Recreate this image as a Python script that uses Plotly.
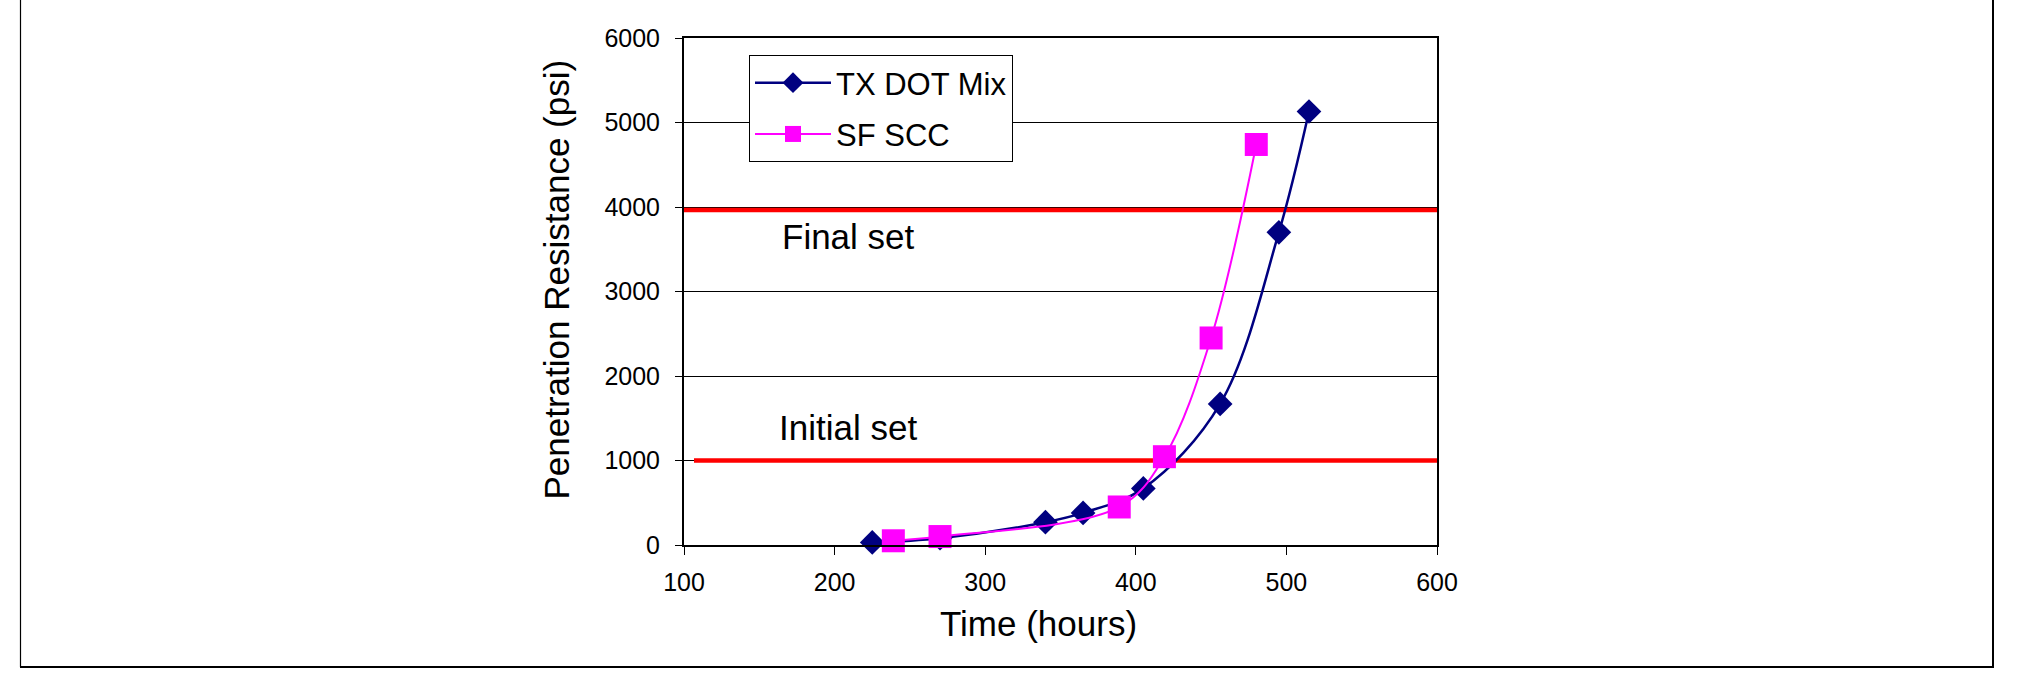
import plotly.graph_objects as go

# ---- data ----
tx_time = [225, 270, 340, 365, 405, 456, 495, 515]
tx_psi = [30, 80, 270, 380, 670, 1670, 3700, 5130]
sf_time = [239, 270, 389, 419, 450, 480]
sf_psi = [50, 100, 450, 1045, 2450, 4740]
set_levels = [1000, 3965]
set_labels = ["Initial set", "Final set"]
label_pos = [(209, 1385), (209, 3647)]
x_ticks = [100, 200, 300, 400, 500, 600]
y_ticks = [0, 1000, 2000, 3000, 4000, 5000, 6000]
x_range = [100, 600]
y_range = [0, 6000]

W, H = 2035, 682
ML, MR, MT, MB = 684, 2035 - 1437, 38, 682 - 545
PW, PH = W - ML - MR, H - MT - MB


def px_x(p):
    return (p - ML) / PW


def px_y(p):
    return (H - MB - p) / PH


def px_to_xdata(p):
    return x_range[0] + (p - ML) / PW * (x_range[1] - x_range[0])


FONT = "Liberation Sans, Arial, sans-serif"

fig = go.Figure()
fig.add_trace(go.Scatter(
    x=tx_time, y=tx_psi, name="TX DOT Mix", mode="lines+markers",
    line=dict(color="#000080", width=2.5, shape="spline", smoothing=1),
    marker=dict(symbol="diamond", size=19, color="#000080"),
    legendgroup="a", cliponaxis=False,
))
fig.add_trace(go.Scatter(
    x=sf_time, y=sf_psi, name="SF SCC", mode="lines+markers",
    line=dict(color="#FF00FF", width=2, shape="spline", smoothing=1),
    marker=dict(symbol="square", size=23, color="#FF00FF"),
    legendgroup="b", cliponaxis=False,
))

shapes = []
# red set lines (above gridlines, below data)
starts = [694, 676]
for lvl, s in zip(set_levels, starts):
    shapes.append(dict(type="line", xref="x", yref="y",
                       x0=px_to_xdata(s), x1=px_to_xdata(1445), y0=lvl, y1=lvl,
                       line=dict(color="#FF0000", width=4.5), layer="between"))
# outer frame (left, bottom, right)
shapes.append(dict(type="line", xref="paper", yref="paper", x0=px_x(20.5), x1=px_x(20.5),
                   y0=px_y(667), y1=px_y(-20), line=dict(color="black", width=1.2)))
shapes.append(dict(type="line", xref="paper", yref="paper", x0=px_x(20), x1=px_x(1994),
                   y0=px_y(667), y1=px_y(667), line=dict(color="black", width=2)))
shapes.append(dict(type="line", xref="paper", yref="paper", x0=px_x(1993), x1=px_x(1993),
                   y0=px_y(668), y1=px_y(-20), line=dict(color="black", width=2)))

annotations = []
for lab, (ax_, ay_) in zip(set_labels, label_pos):
    annotations.append(dict(x=ax_, y=ay_, xref="x", yref="y", text=lab, showarrow=False,
                            font=dict(family=FONT, size=35, color="black"),
                            xanchor="center", yanchor="middle"))
annotations.append(dict(x=px_x(1038), y=px_y(623.7), xref="paper", yref="paper",
                        text="Time (hours)", showarrow=False,
                        font=dict(family=FONT, size=35, color="black"),
                        xanchor="center", yanchor="middle"))
annotations.append(dict(x=px_x(556), y=px_y(279.5), xref="paper", yref="paper",
                        text="Penetration Resistance (psi)", showarrow=False, textangle=-90,
                        font=dict(family=FONT, size=35, color="black"),
                        xanchor="center", yanchor="middle"))

fig.update_layout(
    width=W, height=H,
    margin=dict(l=ML, r=MR, t=MT, b=MB, pad=0),
    paper_bgcolor="white", plot_bgcolor="white",
    font=dict(family=FONT, color="black"),
    shapes=shapes, annotations=annotations,
    showlegend=True,
    legend=dict(x=px_x(749), y=px_y(55), xanchor="left", yanchor="top",
                bgcolor="white", bordercolor="black", borderwidth=1,
                font=dict(family=FONT, size=31, color="black"),
                itemwidth=76, tracegroupgap=8),
    xaxis=dict(range=x_range, tickvals=x_ticks, ticktext=[str(v) for v in x_ticks],
               showgrid=False, zeroline=False, showline=True, linecolor="black", linewidth=2,
               mirror=True, ticks="outside", ticklen=8, tickwidth=1, tickcolor="black",
               tickfont=dict(family=FONT, size=25), ticklabelstandoff=6),
    yaxis=dict(range=y_range, tickvals=y_ticks, ticktext=[str(v) for v in y_ticks],
               showgrid=True, gridcolor="black", gridwidth=1, zeroline=False,
               showline=True, linecolor="black", linewidth=2, mirror=True,
               ticks="outside", ticklen=7, tickwidth=1, tickcolor="black",
               tickfont=dict(family=FONT, size=25), ticklabelstandoff=10),
)

fig.write_html("out.html")
